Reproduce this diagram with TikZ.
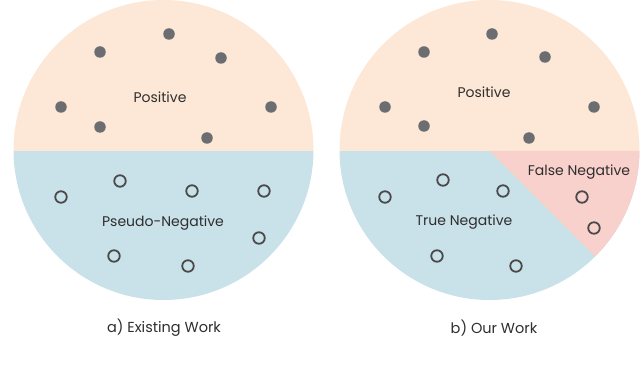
\documentclass[tikz,border=0pt]{standalone}
\usepackage{fontspec}
\setmainfont{Poppins}
\usepackage{xcolor}
\usepackage{tikz}
\usetikzlibrary{positioning}

\definecolor{posfill}{HTML}{FDE8D7}
\definecolor{negfill}{HTML}{C9E1E8}
\definecolor{fnfill}{HTML}{F9D1CC}
\definecolor{dotgray}{HTML}{6B6D70}
\definecolor{ringgray}{HTML}{4A4A4A}
\definecolor{labelgray}{HTML}{2E2E2E}

\begin{document}
\begin{tikzpicture}[x=1pt, y=-1pt, posdot/.style={circle, fill=dotgray, inner sep=0pt, minimum size=11.5pt}, negdot/.style={circle, draw=ringgray, line width=1.8pt, inner sep=0pt, minimum size=11.5pt}, region/.style={font=\fontsize{14}{16}\selectfont, text=labelgray, inner sep=1pt}, caption/.style={font=\fontsize{14.5}{16}\selectfont, text=labelgray}]
\useasboundingbox (0,0) rectangle (640,371);
% left circle: existing work
\begin{scope}
\clip (163.5,150) circle[radius=150];
\fill[posfill] (10,-5) rectangle (320,151);
\fill[negfill] (10,151) rectangle (320,305);
\end{scope}
% right circle: our work
\begin{scope}
\clip (489.5,150) circle[radius=150];
\fill[posfill] (335,-5) rectangle (645,151);
\fill[negfill] (335,151) rectangle (645,305);
\fill[fnfill] (489.5,151) -- (645,151) -- (645,306.5) -- cycle;
\end{scope}
% left dots
\node[posdot] (lp1) at (100,52) {};
\node[posdot] (lp2) at (169,34) {};
\node[posdot] (lp3) at (221,58) {};
\node[posdot] (lp4) at (61,107) {};
\node[posdot] (lp5) at (271,107) {};
\node[posdot] (lp6) at (100,127) {};
\node[posdot] (lp7) at (207,138) {};
\node[negdot] (ln1) at (120,181) {};
\node[negdot] (ln2) at (61,197) {};
\node[negdot] (ln3) at (192,191) {};
\node[negdot] (ln4) at (264,191) {};
\node[negdot] (ln5) at (259,238) {};
\node[negdot] (ln6) at (114,256) {};
\node[negdot] (ln7) at (188,266) {};
% right dots
\node[posdot] (rp1) at (424,52) {};
\node[posdot] (rp2) at (492,34) {};
\node[posdot] (rp3) at (545,57) {};
\node[posdot] (rp4) at (385,107) {};
\node[posdot] (rp5) at (594,107) {};
\node[posdot] (rp6) at (424,126) {};
\node[posdot] (rp7) at (529,138) {};
\node[negdot] (rn1) at (443,180) {};
\node[negdot] (rn2) at (385,197) {};
\node[negdot] (rn3) at (503,191) {};
\node[negdot] (rn4) at (437,256) {};
\node[negdot] (rn5) at (516,266) {};
\node[negdot] (rf1) at (582,197) {};
\node[negdot] (rf2) at (594,228) {};
% labels
\node[region] (lpos) at (160,97) {Positive};
\node[region] (lneg) at (163,223) {Pseudo-Negative};
\node[region] (rpos) at (484,92) {Positive};
\node[region] (rfn) at (579,172) {False Negative};
\node[region] (rtn) at (464,222) {True Negative};
\node[caption] (capa) at (164,328) {a) Existing Work};
\node[caption] (capb) at (494,328) {b) Our Work};
\end{tikzpicture}
\end{document}
